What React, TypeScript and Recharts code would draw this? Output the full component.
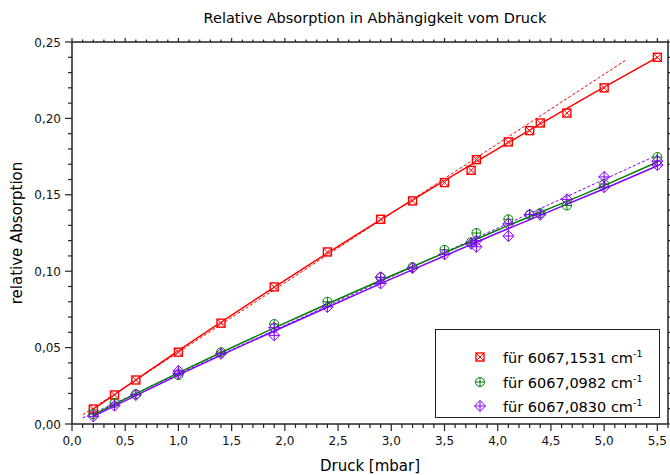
import { ComposedChart, Legend, Line, Scatter, XAxis, YAxis } from 'recharts'

const SCHRIFT = '"DejaVu Sans", "Liberation Sans", sans-serif'
const ACHSE = '#222'
const ROT = '#ff0000'
const GRUEN = '#008000'
const LILA = '#8000ff'

const TITEL = 'Relative Absorption in Abhängigkeit vom Druck'
const X_TITEL = 'Druck [mbar]'
const Y_TITEL = 'relative Absorption'

// Messpunkte 6067,1531 cm-1
const druckRot = [0.2, 0.4, 0.6, 1.0, 1.4, 1.9, 2.4, 2.9, 3.2, 3.5, 3.75, 3.8, 4.1, 4.3, 4.4, 4.65, 5.0, 5.5]
const absRot = [0.0098, 0.019, 0.0288, 0.047, 0.066, 0.0897, 0.1126, 0.134, 0.146, 0.158, 0.166, 0.173, 0.1846, 0.192, 0.197, 0.2035, 0.22, 0.24]

// Messpunkte 6067,0982 cm-1
const druckGruen = [0.2, 0.4, 0.6, 1.0, 1.4, 1.9, 2.4, 2.9, 3.2, 3.5, 3.75, 3.8, 4.1, 4.3, 4.4, 4.65, 5.0, 5.5]
const absGruen = [0.0065, 0.0137, 0.0196, 0.032, 0.047, 0.0654, 0.08, 0.096, 0.1027, 0.114, 0.119, 0.125, 0.134, 0.137, 0.138, 0.143, 0.157, 0.1747]

// Messpunkte 6067,0830 cm-1
const druckLila = [0.2, 0.4, 0.6, 1.0, 1.0, 1.4, 1.9, 1.9, 2.4, 2.9, 2.9, 3.2, 3.5, 3.75, 3.8, 3.8, 4.1, 4.1, 4.3, 4.4, 4.65, 5.0, 5.0, 5.5, 5.5]
const absLila = [0.005, 0.012, 0.019, 0.0347, 0.033, 0.046, 0.058, 0.063, 0.0766, 0.092, 0.096, 0.102, 0.111, 0.118, 0.116, 0.12, 0.123, 0.131, 0.137, 0.137, 0.147, 0.1617, 0.155, 0.1695, 0.172]

// Ausgleichskurven
const fitRotX = [0.2, 1.0, 2.0, 3.0, 4.0, 5.0, 5.5]
const fitRotY = [0.0098, 0.048, 0.094, 0.138, 0.18, 0.2205, 0.24]
const fitGruenX = [0.2, 1.0, 2.0, 3.0, 4.0, 5.0, 5.5]
const fitGruenY = [0.006, 0.0335, 0.066, 0.097, 0.127, 0.156, 0.1715]
const fitLilaX = [0.2, 1.0, 2.0, 3.0, 4.0, 5.0, 5.5]
const fitLilaY = [0.005, 0.032, 0.064, 0.095, 0.125, 0.154, 0.169]

// lineare Anpassung der niedrigen Drücke (gestrichelt)
const linRotX = [0.1, 5.2]
const linRotY = [0.006, 0.238]
const linLilaX = [0.1, 5.5]
const linLilaY = [0.004, 0.176]

const legendeTexte = ['für 6067,1531 cm', 'für 6067,0982 cm', 'für 6067,0830 cm']

const xTicks = Array.from({ length: 57 }, (_, i) => Number((i * 0.1).toFixed(1)))
const yTicks = Array.from({ length: 26 }, (_, i) => Number((i * 0.01).toFixed(2)))

const punkte = (xs: number[], ys: number[]) => xs.map((x, i) => ({ x, y: ys[i] }))

const istHaupt = (v: number, schritt: number) => Math.abs(v / schritt - Math.round(v / schritt)) < 1e-6
const komma = (v: number, stellen: number) => v.toFixed(stellen).replace('.', ',')

function MarkeRot({ cx, cy }: { cx: number; cy: number }) {
  const r = 4
  return (
    <g stroke={ROT} strokeWidth={1.4} fill="none">
      <rect x={cx - r} y={cy - r} width={2 * r} height={2 * r} fill="#fff" fillOpacity={0.3} />
      <line x1={cx - r} y1={cy - r} x2={cx + r} y2={cy + r} strokeWidth={1} />
      <line x1={cx - r} y1={cy + r} x2={cx + r} y2={cy - r} strokeWidth={1} />
    </g>
  )
}

function MarkeGruen({ cx, cy }: { cx: number; cy: number }) {
  const r = 4.5
  return (
    <g stroke={GRUEN} strokeWidth={1} fill="none">
      <circle cx={cx} cy={cy} r={r} />
      <line x1={cx - r} y1={cy} x2={cx + r} y2={cy} />
      <line x1={cx} y1={cy - r} x2={cx} y2={cy + r} />
    </g>
  )
}

function MarkeLila({ cx, cy }: { cx: number; cy: number }) {
  const r = 5.5
  return (
    <g stroke={LILA} strokeWidth={1} fill="none">
      <path d={`M${cx},${cy - r}L${cx + r},${cy}L${cx},${cy + r}L${cx - r},${cy}Z`} />
      <line x1={cx - r} y1={cy} x2={cx + r} y2={cy} />
      <line x1={cx} y1={cy - r} x2={cx} y2={cy + r} />
    </g>
  )
}

const MARKEN = [MarkeRot, MarkeGruen, MarkeLila]

function TickUnten({ x, y, payload }: any) {
  const haupt = istHaupt(payload.value, 0.5)
  return (
    <g>
      <line x1={x} x2={x} y1={y} y2={y + (haupt ? 7 : 4)} stroke={ACHSE} strokeWidth={1.2} />
      {haupt && (
        <text x={x} y={y + 21} textAnchor="middle" fontSize={12} fill="#111" fontFamily={SCHRIFT}>
          {komma(payload.value, 1)}
        </text>
      )}
    </g>
  )
}

function TickOben({ x, y, payload }: any) {
  const haupt = istHaupt(payload.value, 0.5)
  return <line x1={x} x2={x} y1={y} y2={y - (haupt ? 4 : 2.5)} stroke={ACHSE} strokeWidth={1.2} />
}

function TickLinks({ x, y, payload }: any) {
  const haupt = istHaupt(payload.value, 0.05)
  return (
    <g>
      <line x1={x - (haupt ? 7 : 4)} x2={x} y1={y} y2={y} stroke={ACHSE} strokeWidth={1.2} />
      {haupt && (
        <text x={x - 11} y={y + 4.5} textAnchor="end" fontSize={12} fill="#111" fontFamily={SCHRIFT}>
          {komma(payload.value, 2)}
        </text>
      )}
    </g>
  )
}

function TickRechts({ x, y, payload }: any) {
  const haupt = istHaupt(payload.value, 0.05)
  return <line x1={x} x2={x + (haupt ? 4 : 2.5)} y1={y} y2={y} stroke={ACHSE} strokeWidth={1.2} />
}

function LegendenInhalt() {
  return (
    <div
      style={{
        width: 225,
        height: 89,
        boxSizing: 'border-box',
        border: `1.5px solid ${ACHSE}`,
        background: '#fff',
        fontFamily: SCHRIFT,
        fontSize: 14.5,
        color: '#000',
        paddingTop: 15,
      }}
    >
      {legendeTexte.map((t, i) => {
        const Marke = MARKEN[i]
        return (
          <div key={t} style={{ display: 'flex', alignItems: 'center', height: 24.5 }}>
            <svg width={16} height={16} style={{ marginLeft: 36, marginRight: 15 }}>
              <Marke cx={8} cy={8} />
            </svg>
            <span>
              {t}
              <sup style={{ fontSize: 9.5, verticalAlign: 6 }}>-1</sup>
            </span>
          </div>
        )
      })}
    </div>
  )
}

export default function App() {
  return (
    <div style={{ position: 'absolute', left: 0, top: 0, width: 670, height: 475, background: '#fff' }}>
      <ComposedChart
        width={670}
        height={475}
        margin={{ top: 36, right: 1, bottom: 4, left: 10 }}
        style={{ fontFamily: SCHRIFT }}
      >
        <XAxis
          xAxisId="unten"
          type="number"
          dataKey="x"
          domain={[0, 5.6]}
          allowDataOverflow
          ticks={xTicks}
          interval={0}
          tickSize={0}
          tickMargin={0}
          tickLine={false}
          tick={<TickUnten />}
          height={47}
          axisLine={{ stroke: ACHSE, strokeWidth: 1.5 }}
          label={{ value: X_TITEL, position: 'insideBottom', offset: 0, fontSize: 15, fill: '#000' }}
        />
        <XAxis
          xAxisId="oben"
          orientation="top"
          type="number"
          dataKey="x"
          domain={[0, 5.6]}
          allowDataOverflow
          ticks={xTicks}
          interval={0}
          tickSize={0}
          tickMargin={0}
          tickLine={false}
          tick={<TickOben />}
          height={6}
          axisLine={{ stroke: ACHSE, strokeWidth: 1.5 }}
          label={{ value: TITEL, position: 'top', offset: 13, fontSize: 14.5, fill: '#000', dx: 5 }}
        />
        <YAxis
          yAxisId="links"
          type="number"
          domain={[0, 0.25]}
          allowDataOverflow
          ticks={yTicks}
          interval={0}
          tickSize={0}
          tickMargin={0}
          tickLine={false}
          tick={<TickLinks />}
          width={62}
          axisLine={{ stroke: ACHSE, strokeWidth: 1.5 }}
          label={{
            value: Y_TITEL,
            angle: -90,
            position: 'insideLeft',
            offset: 7,
            fontSize: 15,
            fill: '#000',
            style: { textAnchor: 'middle' },
          }}
        />
        <YAxis
          yAxisId="rechts"
          orientation="right"
          type="number"
          domain={[0, 0.25]}
          allowDataOverflow
          ticks={yTicks}
          interval={0}
          tickSize={0}
          tickMargin={0}
          tickLine={false}
          tick={<TickRechts />}
          width={1}
          axisLine={{ stroke: ACHSE, strokeWidth: 1.5 }}
        />

        <Line xAxisId="unten" yAxisId="links" data={punkte(linRotX, linRotY)} dataKey="y" stroke={ROT} strokeWidth={1} strokeDasharray="3 2" dot={false} isAnimationActive={false} legendType="none" />
        <Line xAxisId="unten" yAxisId="links" data={punkte(linLilaX, linLilaY)} dataKey="y" stroke={LILA} strokeWidth={1} strokeDasharray="3 2" dot={false} isAnimationActive={false} legendType="none" />
        <Line xAxisId="unten" yAxisId="links" data={punkte(fitRotX, fitRotY)} dataKey="y" type="monotone" stroke={ROT} strokeWidth={1.5} dot={false} isAnimationActive={false} legendType="none" />
        <Line xAxisId="unten" yAxisId="links" data={punkte(fitGruenX, fitGruenY)} dataKey="y" type="monotone" stroke={GRUEN} strokeWidth={1.5} dot={false} isAnimationActive={false} legendType="none" />
        <Line xAxisId="unten" yAxisId="links" data={punkte(fitLilaX, fitLilaY)} dataKey="y" type="monotone" stroke={LILA} strokeWidth={1.5} dot={false} isAnimationActive={false} legendType="none" />

        <Scatter xAxisId="unten" yAxisId="links" data={punkte(druckRot, absRot)} dataKey="y" shape={(p: any) => <MarkeRot cx={p.cx} cy={p.cy} />} isAnimationActive={false} />
        <Scatter xAxisId="unten" yAxisId="links" data={punkte(druckGruen, absGruen)} dataKey="y" shape={(p: any) => <MarkeGruen cx={p.cx} cy={p.cy} />} isAnimationActive={false} />
        <Scatter xAxisId="unten" yAxisId="links" data={punkte(druckLila, absLila)} dataKey="y" shape={(p: any) => <MarkeLila cx={p.cx} cy={p.cy} />} isAnimationActive={false} />

        <Legend
          layout="vertical"
          align="center"
          verticalAlign="middle"
          wrapperStyle={{ left: 435, top: 329, width: 225, height: 89 }}
          content={<LegendenInhalt />}
        />
      </ComposedChart>
    </div>
  )
}
